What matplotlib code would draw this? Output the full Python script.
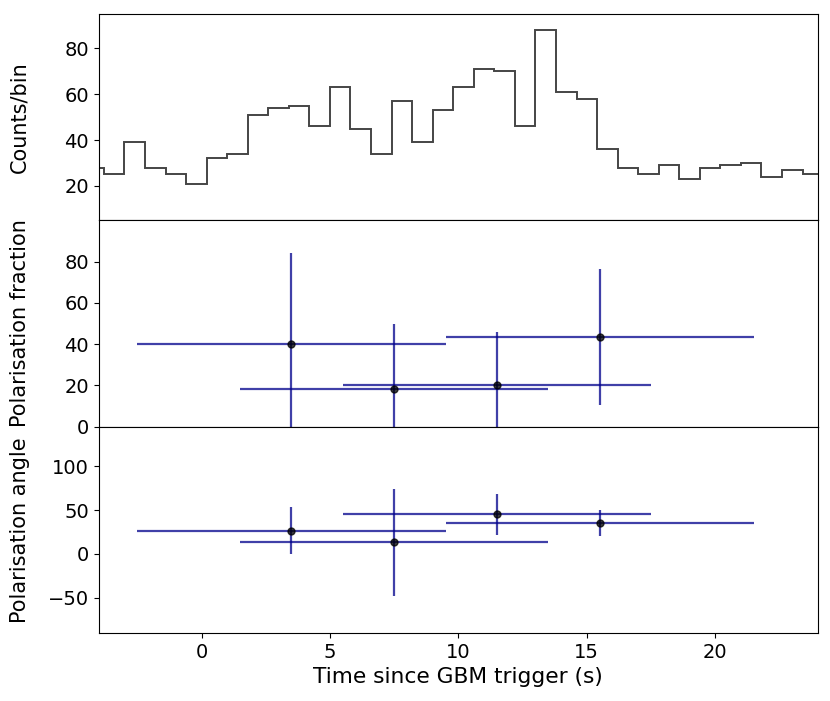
import numpy as np
import matplotlib
matplotlib.use("Agg")
import matplotlib.pyplot as plt

# light curve, 0.8 s bins
bin_edges = np.round(np.arange(-4.6, 24.3, 0.8), 2)
counts = [28, 25, 39, 28, 25, 21, 32, 34, 51, 54, 55, 46, 63, 45, 34, 57, 39, 53,
          63, 71, 70, 46, 88, 61, 58, 36, 28, 25, 29, 23, 28, 29, 30, 24, 27, 25]

# time-resolved polarisation
t_mid = [3.5, 7.5, 11.5, 15.5]
t_err = [6, 6, 6, 6]
pol_frac = [40, 18.4, 20.0, 43.5]
pol_frac_err = [44.3, 31.3, 26.0, 33.0]
pol_angle = [26.5, 13.2, 45.0, 35.5]
pol_angle_err = [27, 61, 23.3, 15]

plt.rcParams['font.size'] = 14

fig, axes = plt.subplots(3, 1, sharex=True, figsize=(8.3, 7.01), dpi=100)
fig.subplots_adjust(left=0.119, right=0.9855, top=0.98, bottom=0.097, hspace=0)

ax = axes[0]
ax.stairs(counts, bin_edges, color='0.27', linewidth=1.4)
ax.set_ylim(5, 95)
ax.set_ylabel("Counts/bin", fontsize=15, labelpad=13)

ax = axes[1]
ax.errorbar(t_mid, pol_frac, xerr=t_err, yerr=pol_frac_err, fmt='o', color='black',
            ms=5, ecolor='darkblue', elinewidth=1.6, alpha=0.75, capsize=0)
ax.set_ylim(0, 100)
ax.set_yticks([0, 20, 40, 60, 80])
ax.set_ylabel("Polarisation fraction", fontsize=15, labelpad=13)

ax = axes[2]
ax.errorbar(t_mid, pol_angle, xerr=t_err, yerr=pol_angle_err, fmt='o', color='black',
            ms=5, ecolor='darkblue', elinewidth=1.6, alpha=0.75, capsize=0)
ax.set_ylim(-90, 145)
ax.set_yticks([-50, 0, 50, 100])
ax.set_ylabel("Polarisation angle", fontsize=15, labelpad=13)
ax.set_xlabel("Time since GBM trigger (s)", fontsize=15.7)

ax.set_xlim(-4, 24)
ax.set_xticks([0, 5, 10, 15, 20])
fig.align_ylabels(axes)

fig.savefig("out.png")
